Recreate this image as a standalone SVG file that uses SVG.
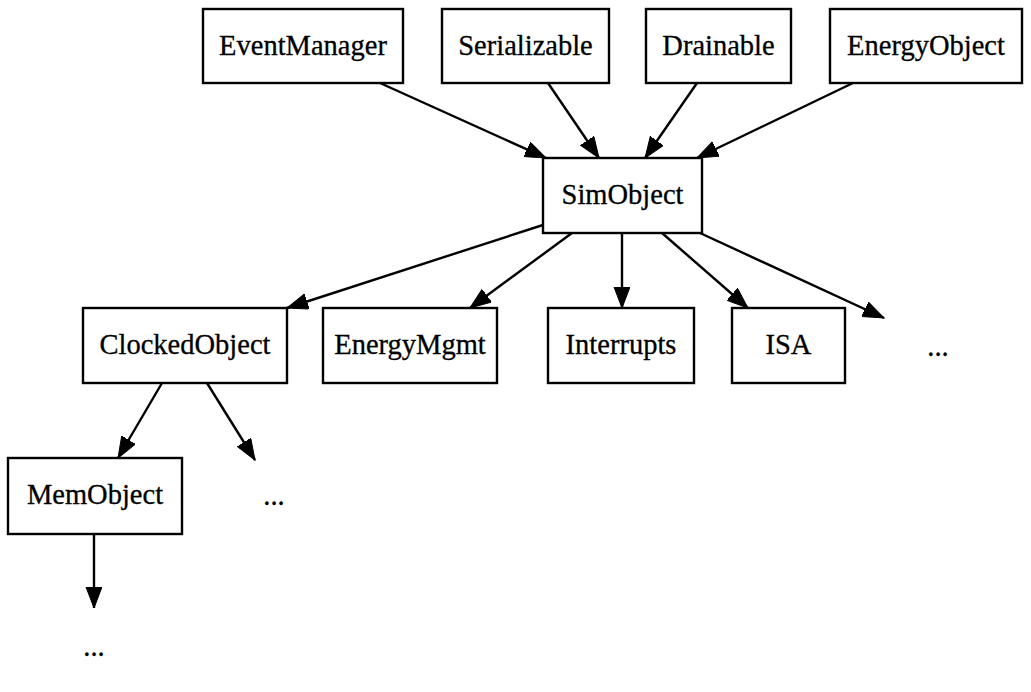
<svg xmlns="http://www.w3.org/2000/svg" width="1031" height="692" viewBox="0 0 1031 692">
<style>
.n rect{fill:#fff;stroke:#000;stroke-width:2.4}
text{font-family:"Liberation Serif","Times New Roman",serif;font-size:28.5px;fill:#000;text-anchor:middle;stroke:#000;stroke-width:0.3}
.e line{stroke:#000;stroke-width:2.4;marker-end:url(#ah)}
</style>
<defs>
<marker id="ah" markerUnits="userSpaceOnUse" markerWidth="24" markerHeight="18" refX="21" refY="8" orient="auto" viewBox="0 0 24 18">
<path d="M0,0 L21,8 L0,16 z" fill="#000" stroke="#000" stroke-width="1"/>
</marker>
</defs>
<rect width="1031" height="692" fill="#fff"/>
<g class="e" id="edges">
<line x1="380" y1="83" x2="546" y2="158"/>
<line x1="548" y1="83" x2="599" y2="158"/>
<line x1="697" y1="83" x2="645" y2="158"/>
<line x1="853" y1="83" x2="697" y2="158"/>
<line x1="543" y1="225" x2="287" y2="308"/>
<line x1="572" y1="233" x2="470" y2="308"/>
<line x1="622" y1="233" x2="622" y2="308"/>
<line x1="662" y1="233" x2="748" y2="308"/>
<line x1="700" y1="233" x2="884" y2="318"/>
<line x1="162" y1="383" x2="118" y2="458"/>
<line x1="207" y1="383" x2="255" y2="460"/>
<line x1="94" y1="534" x2="94" y2="608"/>
</g>
<g class="n" id="EventManager"><rect x="203" y="9" width="200" height="74"/><text x="303" y="55">EventManager</text></g>
<g class="n" id="Serializable"><rect x="442" y="9" width="167" height="74"/><text x="525.5" y="55">Serializable</text></g>
<g class="n" id="Drainable"><rect x="646" y="9" width="145" height="74"/><text x="718.5" y="55">Drainable</text></g>
<g class="n" id="EnergyObject"><rect x="830" y="9" width="192" height="74"/><text x="926" y="55">EnergyObject</text></g>
<g class="n" id="SimObject"><rect x="543" y="158" width="159" height="75"/><text x="622.5" y="204">SimObject</text></g>
<g class="n" id="ClockedObject"><rect x="83" y="308" width="204" height="75"/><text x="185" y="354">ClockedObject</text></g>
<g class="n" id="EnergyMgmt"><rect x="323" y="308" width="174" height="75"/><text x="410" y="354">EnergyMgmt</text></g>
<g class="n" id="Interrupts"><rect x="548" y="308" width="146" height="75"/><text x="621" y="354">Interrupts</text></g>
<g class="n" id="ISA"><rect x="732" y="308" width="113" height="75"/><text x="788.5" y="354">ISA</text></g>
<g id="more1"><text x="938" y="356">...</text></g>
<g class="n" id="MemObject"><rect x="8" y="458" width="174" height="76"/><text x="95" y="504">MemObject</text></g>
<g id="more2"><text x="274" y="505">...</text></g>
<g id="more3"><text x="94" y="656">...</text></g>
</svg>
